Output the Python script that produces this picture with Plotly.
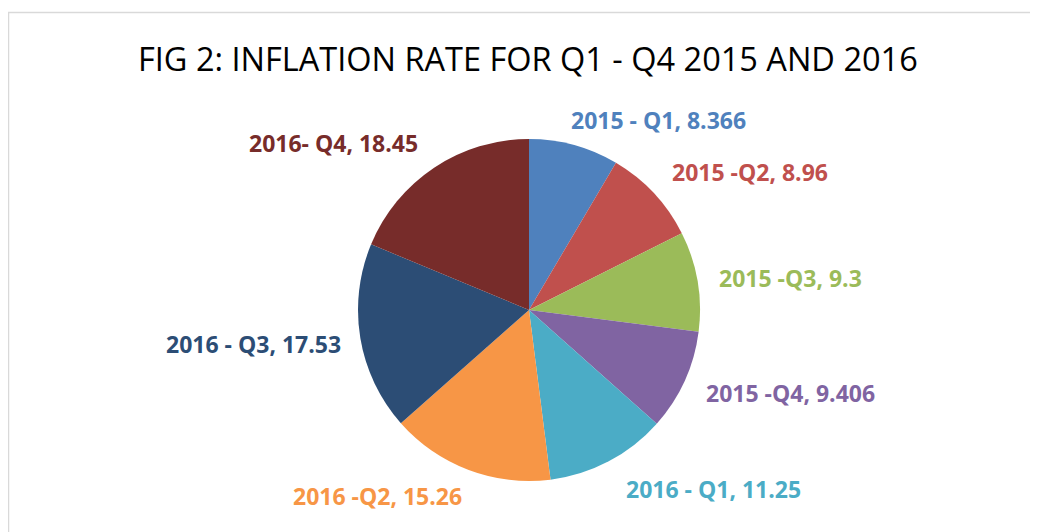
import plotly.graph_objects as go

labels = ["2015 - Q1", "2015 -Q2", "2015 -Q3", "2015 -Q4",
          "2016 - Q1", "2016 -Q2", "2016 - Q3", "2016- Q4"]
values = [8.366, 8.96, 9.3, 9.406, 11.25, 15.26, 17.53, 18.45]
value_text = ["8.366", "8.96", "9.3", "9.406", "11.25", "15.26", "17.53", "18.45"]
colors = ["#4F81BD", "#C0504D", "#9BBB59", "#8064A2",
          "#4BACC6", "#F79646", "#2C4D75", "#772C2A"]
title_text = "FIG 2: INFLATION RATE FOR Q1 - Q4 2015 AND 2016"

W, H = 1038, 532
OFF = 8  # page body margin
# label centre positions (page pixels)
label_pos = [(658, 120), (750, 172), (790, 278), (790, 393),
             (713, 489), (377, 496), (253, 344), (333, 143)]

cx, cy, r = 529 - OFF, 310 - OFF, 171


def px(x):
    return (x - OFF) / W


def py(y):
    return 1 - (y - OFF) / H


fig = go.Figure(go.Pie(
    labels=labels, values=values, sort=False, direction="clockwise",
    rotation=0, marker=dict(colors=colors, line=dict(width=0)),
    textinfo="none", hoverinfo="label+value", showlegend=False,
    domain=dict(x=[(cx - r) / W, (cx + r) / W], y=[1 - (cy + r) / H, 1 - (cy - r) / H]),
))

annotations = [dict(text=title_text, x=px(528), y=py(58), xref="paper", yref="paper",
                    xanchor="center", yanchor="middle", showarrow=False,
                    font=dict(family="Open Sans", size=32.5, color="#000000"))]
for lab, val, col, (lx, ly) in zip(labels, value_text, colors, label_pos):
    annotations.append(dict(text=f"<b>{lab}, {val}</b>", x=px(lx), y=py(ly),
                            xref="paper", yref="paper", xanchor="center", yanchor="middle",
                            showarrow=False,
                            font=dict(family="Open Sans", size=23, color=col)))

fig.update_layout(
    width=W, height=H, margin=dict(l=0, r=0, t=0, b=0),
    paper_bgcolor="white", plot_bgcolor="white",
    annotations=annotations,
    shapes=[dict(type="rect", xref="paper", yref="paper",
                 x0=px(8.5), x1=1.05, y0=-0.05, y1=py(12.5),
                 line=dict(color="#D9D9D9", width=1.5), fillcolor="rgba(0,0,0,0)")],
)

fig.write_html("out.html")
